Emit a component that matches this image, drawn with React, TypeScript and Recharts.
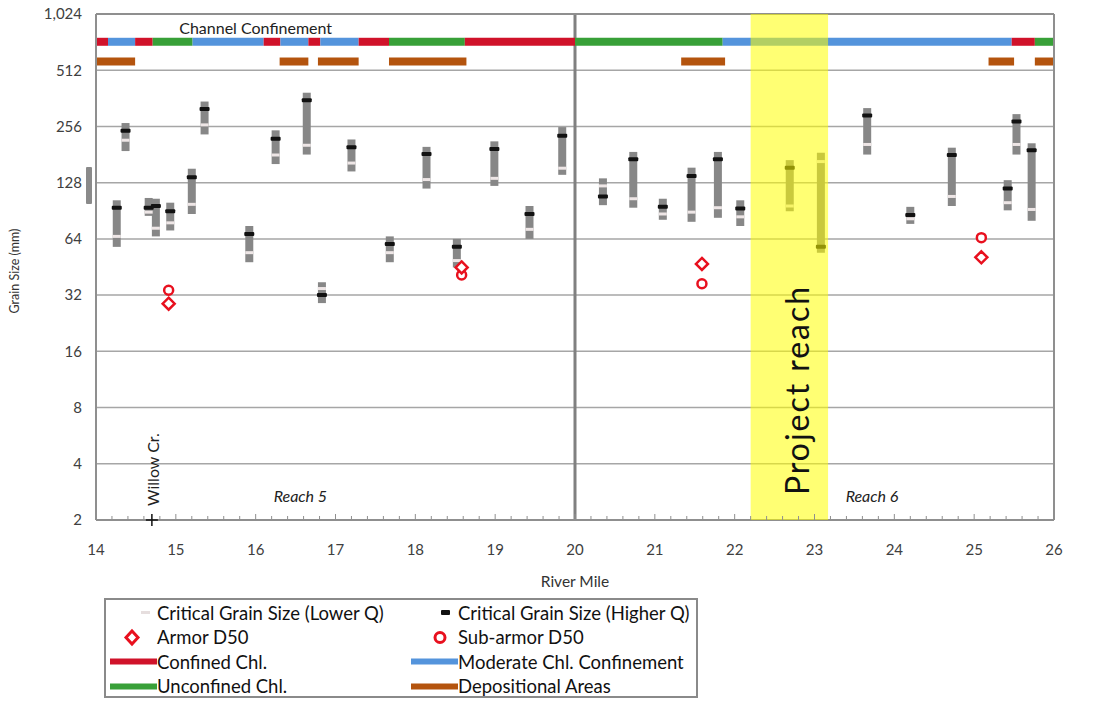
import React from 'react';
import {
  ComposedChart,
  XAxis,
  YAxis,
  CartesianGrid,
  Scatter,
  ReferenceLine,
  ReferenceArea,
  ReferenceDot,
} from 'recharts';

// sampled cross-sections: river mile, grain size range and critical sizes (mm)
const siteMile = [14.26, 14.37, 14.66, 14.75, 14.93, 15.2, 15.36, 15.92, 16.25, 16.64, 16.83, 17.2, 17.68, 18.14, 18.52, 18.99, 19.43, 19.84, 20.35, 20.73, 21.1, 21.46, 21.79, 22.07, 22.69, 23.08, 23.66, 24.2, 24.72, 25.42, 25.53, 25.72];
const rangeLow = [58, 189, 85, 66, 71, 87, 232, 48, 161, 181, 29, 147, 48, 119, 45, 123, 64, 141, 97, 94, 81, 79, 83, 75, 90, 54, 181, 77, 96, 91, 181, 80];
const rangeHigh = [103, 267, 106, 105, 100, 152, 348, 75, 244, 388, 37.5, 218, 66, 199, 64, 213, 96, 254, 135, 187, 105, 154, 187, 103, 169, 185, 321, 95, 197, 132, 298, 208];
const higherQ = [94, 243, 94, 96, 90, 137, 317, 68, 220, 354, 32, 198, 60, 182, 58, 194, 87, 228, 108, 171, 95, 139, 171, 93, 154, 58, 293, 86, 180, 119, 272, 191];
const lowerQ = [66, 216, 89, 73, 78, 98, 261, 54, 180, 203, 34.7, 163, 54, 133, 49, 135, 72, 153, 123, 105, 87, 89, 94, 84, 96, 166, 205, 82, 108, 100, 205, 92];

// bulk samples
const armorMile = [14.91, 18.58, 21.59, 25.09];
const armorD50 = [28.8, 45, 47, 51];
const subArmorMile = [14.91, 18.58, 21.59, 25.09];
const subArmorD50 = [34, 41, 36.8, 65];

// channel confinement strip
const confStart = [14, 14.15, 14.49, 14.71, 15.21, 16.1, 16.31, 16.66, 16.81, 17.29, 17.67, 18.62, 20, 21.85, 25.47, 25.76];
const confEnd = [14.15, 14.49, 14.71, 15.21, 16.1, 16.31, 16.66, 16.81, 17.29, 17.67, 18.62, 20, 21.85, 25.47, 25.76, 26];
const confType = ['confined', 'moderate', 'confined', 'unconfined', 'moderate', 'confined', 'moderate', 'confined', 'moderate', 'confined', 'unconfined', 'confined', 'unconfined', 'moderate', 'confined', 'unconfined'];

// depositional areas strip
const depStart = [14, 16.3, 16.78, 17.67, 21.33, 25.18, 25.76];
const depEnd = [14.49, 16.66, 17.29, 18.64, 21.88, 25.5, 26];

const CONF_LEVEL = 727;
const DEP_LEVEL = 570;

const projectReach = [22.2, 23.17];
const reachSplit = 20;
const willowCreek = 14.7;

const xTicks = [14, 15, 16, 17, 18, 19, 20, 21, 22, 23, 24, 25, 26];
const yTicks = [2, 4, 8, 16, 32, 64, 128, 256, 512, 1024];
const minorTicks: number[] = [];
xTicks.slice(0, -1).forEach((t) => {
  for (let k = 0; k < 5; k++) minorTicks.push(+(t + k * 0.2).toFixed(1));
});
minorTicks.push(26);

const confColor: Record<string, string> = {
  confined: '#D0122A',
  moderate: '#5494DC',
  unconfined: '#38A038',
};
const DEP_COLOR = '#B4540E';
const MARKER_RED = '#E8101E';
const BORDER = '#8f8f8f';
const FONT = 'Lato, "Open Sans", sans-serif';

const highPts = siteMile.map((m, i) => ({ x: m, y: higherQ[i] }));
const lowPts = siteMile.map((m, i) => ({ x: m, y: lowerQ[i] }));
const armorPts = armorMile.map((m, i) => ({ x: m, y: armorD50[i] }));
const subArmorPts = subArmorMile.map((m, i) => ({ x: m, y: subArmorD50[i] }));

const HighTick = (p: any) => (
  <rect x={p.cx - 5} y={p.cy - 2} width={10} height={4} rx={1} fill="#111" />
);
const LowTick = (p: any) => (
  <rect x={p.cx - 4} y={p.cy - 1.5} width={8} height={3} fill="#eee6e6" />
);
const Diamond = (p: any) => (
  <path
    d={`M${p.cx},${p.cy - 6} L${p.cx + 6},${p.cy} L${p.cx},${p.cy + 6} L${p.cx - 6},${p.cy} Z`}
    fill="#fff"
    stroke={MARKER_RED}
    strokeWidth={2.5}
  />
);
const Ring = (p: any) => (
  <circle cx={p.cx} cy={p.cy} r={4.5} fill="#fff" stroke={MARKER_RED} strokeWidth={2.5} />
);

const BottomTick = (props: any) => {
  const { x, y, payload } = props;
  const v = payload.value;
  const major = Math.abs(v - Math.round(v)) < 1e-6;
  return (
    <g>
      <line x1={x} x2={x} y1={y} y2={y - (major ? 6 : 4)} stroke={BORDER} strokeWidth={1} />
      {major && (
        <text x={x} y={y + 35} textAnchor="middle" fontSize={15} fill="#404040">
          {Math.round(v)}
        </text>
      )}
    </g>
  );
};

const TopTick = (props: any) => {
  const { x, y, payload } = props;
  const major = Math.abs(payload.value - Math.round(payload.value)) < 1e-6;
  return <line x1={x} x2={x} y1={y} y2={y + (major ? 6 : 4)} stroke={BORDER} strokeWidth={1} />;
};

const WillowMark = (p: any) => (
  <g>
    <line x1={p.cx - 6} x2={p.cx + 6} y1={p.cy} y2={p.cy} stroke="#111" strokeWidth={1.5} />
    <line x1={p.cx} x2={p.cx} y1={p.cy - 6} y2={p.cy + 6} stroke="#111" strokeWidth={1.5} />
    <text
      x={p.cx + 7}
      y={p.cy - 14}
      transform={`rotate(-90 ${p.cx + 7} ${p.cy - 14})`}
      fontSize={16}
      fill="#222"
    >
      Willow Cr.
    </text>
  </g>
);

const ProjectLabel = (props: any) => {
  const vb = props.viewBox;
  const x = vb.x + 58;
  const y = vb.y + 377;
  return (
    <text
      x={x}
      y={y}
      transform={`rotate(-90 ${x} ${y})`}
      textAnchor="middle"
      fontSize={32}
      textLength={208}
      lengthAdjust="spacing"
      fill="#111"
    >
      Project reach
    </text>
  );
};

const legendItems = [
  { icon: 'low', label: 'Critical Grain Size (Lower Q)', col: 0, row: 0 },
  { icon: 'high', label: 'Critical Grain Size (Higher Q)', col: 1, row: 0 },
  { icon: 'diamond', label: 'Armor D50', col: 0, row: 1 },
  { icon: 'ring', label: 'Sub-armor D50', col: 1, row: 1 },
  { icon: confColor.confined, label: 'Confined Chl.', col: 0, row: 2 },
  { icon: confColor.moderate, label: 'Moderate Chl. Confinement', col: 1, row: 2 },
  { icon: confColor.unconfined, label: 'Unconfined Chl.', col: 0, row: 3 },
  { icon: DEP_COLOR, label: 'Depositional Areas', col: 1, row: 3 },
];

function LegendIcon({ icon }: { icon: string }) {
  let mark: React.ReactNode;
  if (icon === 'low') mark = <rect x={35} y={10} width={9} height={3} fill="#e6dede" />;
  else if (icon === 'high') mark = <rect x={34} y={9} width={9} height={5} rx={1} fill="#111" />;
  else if (icon === 'diamond')
    mark = <path d="M26,5 L32,11.5 L26,18 L20,11.5 Z" fill="#fff" stroke={MARKER_RED} strokeWidth={3} />;
  else if (icon === 'ring')
    mark = <circle cx={33} cy={11.5} r={5} fill="#fff" stroke={MARKER_RED} strokeWidth={3} />;
  else mark = <rect x={4} y={8.5} width={47} height={6} fill={icon} />;
  return (
    <svg width={51} height={23} style={{ display: 'block' }}>
      {mark}
    </svg>
  );
}

function ChartLegend() {
  return (
    <div
      style={{
        position: 'absolute',
        left: 104,
        top: 598,
        width: 594,
        height: 100,
        border: '2px solid #8a8a8a',
        boxSizing: 'border-box',
        fontFamily: FONT,
        fontSize: 18.5,
        color: '#111',
      }}
    >
      {legendItems.map((it) => (
        <div
          key={it.label}
          style={{
            position: 'absolute',
            left: it.col === 0 ? 0 : 301,
            top: 1 + it.row * 24.5,
            display: 'flex',
            alignItems: 'center',
            height: 23,
            whiteSpace: 'nowrap',
          }}
        >
          <LegendIcon icon={it.icon} />
          <span>{it.label}</span>
        </div>
      ))}
    </div>
  );
}

export default function App() {
  return (
    <div
      style={{
        position: 'absolute',
        left: 0,
        top: 0,
        width: 1109,
        height: 702,
        background: '#fff',
        fontFamily: FONT,
        overflow: 'hidden',
      }}
    >
      <ComposedChart width={1109} height={702} margin={{ top: 13, right: 10, left: 36, bottom: 142 }}>
        <CartesianGrid vertical={false} stroke="#a6a6a6" strokeWidth={1.5} />
        <XAxis
          type="number"
          dataKey="x"
          domain={[14, 26]}
          ticks={minorTicks}
          interval={0}
          allowDataOverflow
          height={40}
          tickLine={false}
          tickSize={0}
          tickMargin={0}
          tick={<BottomTick />}
          axisLine={{ stroke: BORDER, strokeWidth: 2 }}
          label={{
            content: (p: any) => (
              <text
                x={p.viewBox.x + p.viewBox.width / 2}
                y={p.viewBox.y + 67}
                textAnchor="middle"
                fontSize={15.5}
                fill="#333"
              >
                River Mile
              </text>
            ),
          }}
        />
        <XAxis
          xAxisId="top"
          orientation="top"
          type="number"
          domain={[14, 26]}
          ticks={minorTicks}
          interval={0}
          height={1}
          tickLine={false}
          tickSize={0}
          tickMargin={0}
          tick={<TopTick />}
          axisLine={{ stroke: BORDER, strokeWidth: 2 }}
        />
        <YAxis
          type="number"
          dataKey="y"
          scale="log"
          domain={[2, 1024]}
          ticks={yTicks}
          interval={0}
          allowDataOverflow
          width={60}
          tickLine={false}
          tickMargin={8}
          tick={{ fontSize: 15, fill: '#404040' }}
          tickFormatter={(v: number) => v.toLocaleString('en-US')}
          axisLine={{ stroke: BORDER, strokeWidth: 2 }}
          label={{
            content: (p: any) => {
              const x = p.viewBox.x - 17;
              const y = p.viewBox.y + p.viewBox.height / 2 + 4;
              return (
                <text x={x} y={y} transform={`rotate(-90 ${x} ${y})`} textAnchor="middle" fontSize={12.5} fill="#333">
                  Grain Size (mm)
                </text>
              );
            },
          }}
        />
        <YAxis
          yAxisId="right"
          orientation="right"
          type="number"
          scale="log"
          domain={[2, 1024]}
          ticks={yTicks}
          interval={0}
          width={45}
          tickLine={false}
          tickMargin={9}
          tick={{ fontSize: 15, fill: '#404040' }}
          tickFormatter={(v: number) => v.toLocaleString('en-US')}
          axisLine={{ stroke: BORDER, strokeWidth: 2 }}
        />

        <ReferenceLine x={reachSplit} stroke="#808080" strokeWidth={3} />

        {confStart.map((s, i) => (
          <ReferenceLine
            key={`conf-${i}`}
            segment={[
              { x: s, y: CONF_LEVEL },
              { x: confEnd[i], y: CONF_LEVEL },
            ]}
            stroke={confColor[confType[i]]}
            strokeWidth={8}
          />
        ))}
        {depStart.map((s, i) => (
          <ReferenceLine
            key={`dep-${i}`}
            segment={[
              { x: s, y: DEP_LEVEL },
              { x: depEnd[i], y: DEP_LEVEL },
            ]}
            stroke={DEP_COLOR}
            strokeWidth={8}
          />
        ))}

        {siteMile.map((m, i) => (
          <ReferenceLine
            key={`rng-${i}`}
            segment={[
              { x: m, y: rangeLow[i] },
              { x: m, y: rangeHigh[i] },
            ]}
            stroke="#878787"
            strokeWidth={8}
          />
        ))}

        <Scatter data={lowPts} shape={LowTick} isAnimationActive={false} />
        <Scatter data={highPts} shape={HighTick} isAnimationActive={false} />
        <Scatter data={subArmorPts} shape={Ring} isAnimationActive={false} />
        <Scatter data={armorPts} shape={Diamond} isAnimationActive={false} />

        <ReferenceDot x={willowCreek} y={2} r={6} ifOverflow="visible" shape={WillowMark} />
        <ReferenceDot
          x={16.56}
          y={2.69}
          r={0}
          label={{ value: 'Reach 5', position: 'center', fontSize: 16, fontStyle: 'italic', fill: '#222' }}
        />
        <ReferenceDot
          x={23.72}
          y={2.69}
          r={0}
          label={{ value: 'Reach 6', position: 'center', fontSize: 16, fontStyle: 'italic', fill: '#222' }}
        />
        <ReferenceDot
          x={16.0}
          y={860}
          r={0}
          label={{ value: 'Channel Confinement', position: 'center', fontSize: 16, fill: '#222' }}
        />

        <ReferenceArea
          x1={projectReach[0]}
          x2={projectReach[1]}
          y1={2}
          y2={1024}
          fill="#FFFF00"
          fillOpacity={0.55}
          stroke="none"
          zIndex={1500}
          label={<ProjectLabel />}
        />
      </ComposedChart>
      <div
        style={{
          position: 'absolute',
          left: 86,
          top: 167,
          width: 6,
          height: 37,
          background: '#8a8a8a',
          borderRadius: 1,
        }}
      />
      <ChartLegend />
    </div>
  );
}
